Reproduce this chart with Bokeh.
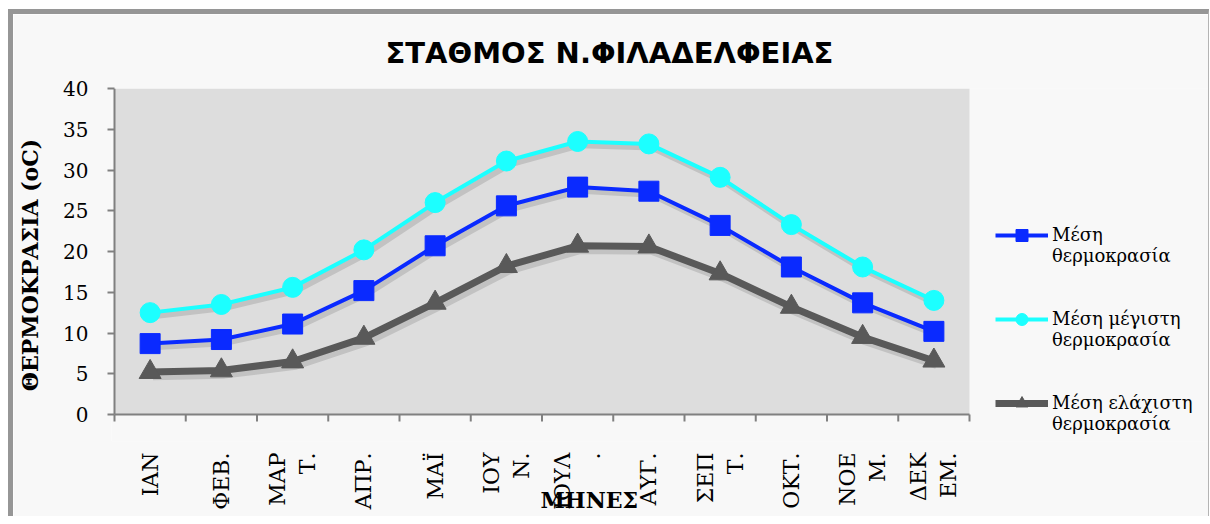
from bokeh.plotting import figure
from bokeh.models import (Range1d, FixedTicker, Legend, LegendItem, Title, ColumnDataSource,
                          BoxAnnotation)
from bokeh.transform import dodge
from bokeh.embed import file_html
from bokeh.resources import INLINE

months = ["ΙΑΝ", "ΦΕΒ.", "ΜΑΡ\nΤ.", "ΑΠΡ.", "ΜΑΪ", "ΙΟΥ\nΝ.", "ΙΟΥΛ\n.", "ΑΥΓ.",
          "ΣΕΠ\nΤ.", "ΟΚΤ.", "ΝΟΕ\nΜ.", "ΔΕΚ\nΕΜ."]
t_mean = [8.7, 9.2, 11.1, 15.2, 20.7, 25.6, 27.9, 27.4, 23.2, 18.1, 13.7, 10.2]
t_max = [12.5, 13.5, 15.6, 20.2, 26.0, 31.1, 33.5, 33.2, 29.1, 23.3, 18.1, 14.0]
t_min = [5.2, 5.4, 6.5, 9.4, 13.7, 18.2, 20.7, 20.6, 17.3, 13.2, 9.5, 6.6]
labels = ["\nΜέση\nθερμοκρασία", "\nΜέση μέγιστη\nθερμοκρασία", "\nΜέση ελάχιστη\nθερμοκρασία"]
y_ticks = [0, 5, 10, 15, 20, 25, 30, 35, 40]
title = "ΣΤΑΘΜΟΣ  Ν.ΦΙΛΑΔΕΛΦΕΙΑΣ"
y_title = "ΘΕΡΜΟΚΡΑΣΙΑ (oC)"
x_title = "ΜΗΝΕΣ"

n = len(months)
y_max = y_ticks[-1]
xs = [i + 0.5 for i in range(n)]
bounds = list(range(n + 1))
src = ColumnDataSource(dict(x=xs, mean=t_mean, tmax=t_max, tmin=t_min))

# geometry (pixels)
PX_X = 71.25     # px per month
PX_Y = 8.15      # px per degree
W, H = 1201, 507
MB_LEFT, MB_RIGHT, MB_TOP, MB_BOTTOM = 98, 6, 74, 80
frame_w = W - MB_LEFT - MB_RIGHT
frame_h = H - MB_TOP - MB_BOTTOM
x0 = -3 / PX_X
y0 = y_max - frame_h / PX_Y

p = figure(width=W, height=H, output_backend="svg", toolbar_location=None,
           x_range=Range1d(x0, x0 + frame_w / PX_X), y_range=Range1d(y0, y_max),
           min_border_left=MB_LEFT, min_border_right=MB_RIGHT, min_border_top=MB_TOP,
           min_border_bottom=MB_BOTTOM)
p.styles = {"border-left": "5px solid #969696", "border-top": "5px solid #969696",
            "border-right": "1px solid #b4b4b4", "box-sizing": "border-box",
            "margin-left": "8px", "margin-top": "9px"}
p.border_fill_color = "#f8f8f8"
p.background_fill_color = "#f8f8f8"
p.outline_line_color = None
p.grid.visible = False

p.add_layout(BoxAnnotation(left=0, right=n, bottom=0, top=y_max, fill_color="#dddddd",
                           fill_alpha=1, line_color=None, level="underlay"))

p.title.text = title
p.title.align = "left"
p.title.offset = 274
p.title.standoff = 38
p.title.text_font = "DejaVu Sans"
p.title.text_font_style = "bold"
p.title.text_font_size = "29px"
p.title.text_color = "black"

# x axis: labels from Bokeh axis, line + boundary ticks drawn at y=0
p.xaxis.ticker = FixedTicker(ticks=xs, minor_ticks=[])
p.xaxis.major_label_overrides = {x: m for x, m in zip(xs, months)}
p.xaxis.major_label_orientation = 3.14159 / 2
p.xaxis.major_tick_out = 0
p.xaxis.major_tick_in = 0
p.xaxis.axis_line_color = None
p.xaxis.major_label_standoff = 11
p.xaxis.major_label_text_font = "DejaVu Serif"
p.xaxis.major_label_text_font_size = "22px"
p.xaxis.major_label_text_color = "black"

p.yaxis.ticker = FixedTicker(ticks=y_ticks)
p.yaxis.minor_tick_line_color = None
p.yaxis.axis_line_color = None
p.yaxis.major_tick_out = 4
p.yaxis.major_tick_in = 3
p.yaxis.major_tick_line_color = "#808080"
p.yaxis.major_tick_line_width = 2
p.yaxis.major_label_standoff = 19
p.yaxis.major_label_text_font = "DejaVu Serif"
p.yaxis.major_label_text_font_size = "20px"
p.yaxis.major_label_text_color = "black"
p.yaxis.axis_label = y_title
p.yaxis.axis_label_text_font = "DejaVu Serif"
p.yaxis.axis_label_text_font_style = "bold"
p.yaxis.axis_label_text_font_size = "22px"
p.yaxis.axis_label_text_color = "black"
p.yaxis.axis_label_standoff = 17

axis_col = "#808080"
p.segment(x0=[0, 0], y0=[0, 0], x1=[n, 0], y1=[0, y_max], line_color=axis_col, line_width=2)
p.segment(x0=bounds, y0=0, x1=bounds, y1=-7 / PX_Y, line_color=axis_col, line_width=2)

# shadows
for col, w in (("tmax", 6), ("mean", 6), ("tmin", 9)):
    p.line(x=dodge("x", 0.04), y=dodge(col, -0.45), source=src, line_color="black",
           line_alpha=0.12, line_width=w)

c_mean, c_max, c_min = "#0a2aff", "#1cffff", "#595959"
r1 = p.line("x", "mean", source=src, line_color=c_mean, line_width=4)
m1 = p.scatter("x", "mean", source=src, marker="square", size=20, fill_color=c_mean, line_color=c_mean)
r2 = p.line("x", "tmax", source=src, line_color=c_max, line_width=4)
m2 = p.scatter("x", "tmax", source=src, marker="circle", size=20, fill_color=c_max, line_color=c_max)
r3 = p.line("x", "tmin", source=src, line_color=c_min, line_width=7)
m3 = p.scatter("x", "tmin", source=src, marker="triangle", size=22, fill_color=c_min, line_color=c_min)

legend = Legend(items=[LegendItem(label=labels[0], renderers=[r1, m1]),
                       LegendItem(label=labels[1], renderers=[r2, m2]),
                       LegendItem(label=labels[2], renderers=[r3, m3])],
                location=(884, 7), orientation="vertical")
legend.label_text_font = "DejaVu Serif"
legend.label_text_font_size = "18px"
legend.label_text_color = "black"
legend.glyph_width = 53
legend.glyph_height = 30
legend.spacing = 21
legend.padding = 0
legend.margin = 0
legend.label_standoff = 4
legend.border_line_color = None
legend.background_fill_alpha = 0
p.add_layout(legend)

xt = Title(text=x_title, align="left", vertical_align="top", offset=429, standoff=-52,
           text_font="DejaVu Serif", text_font_style="bold", text_font_size="22px",
           text_color="black")
p.add_layout(xt, "below")

open("out.html", "w").write(file_html(p, INLINE))
